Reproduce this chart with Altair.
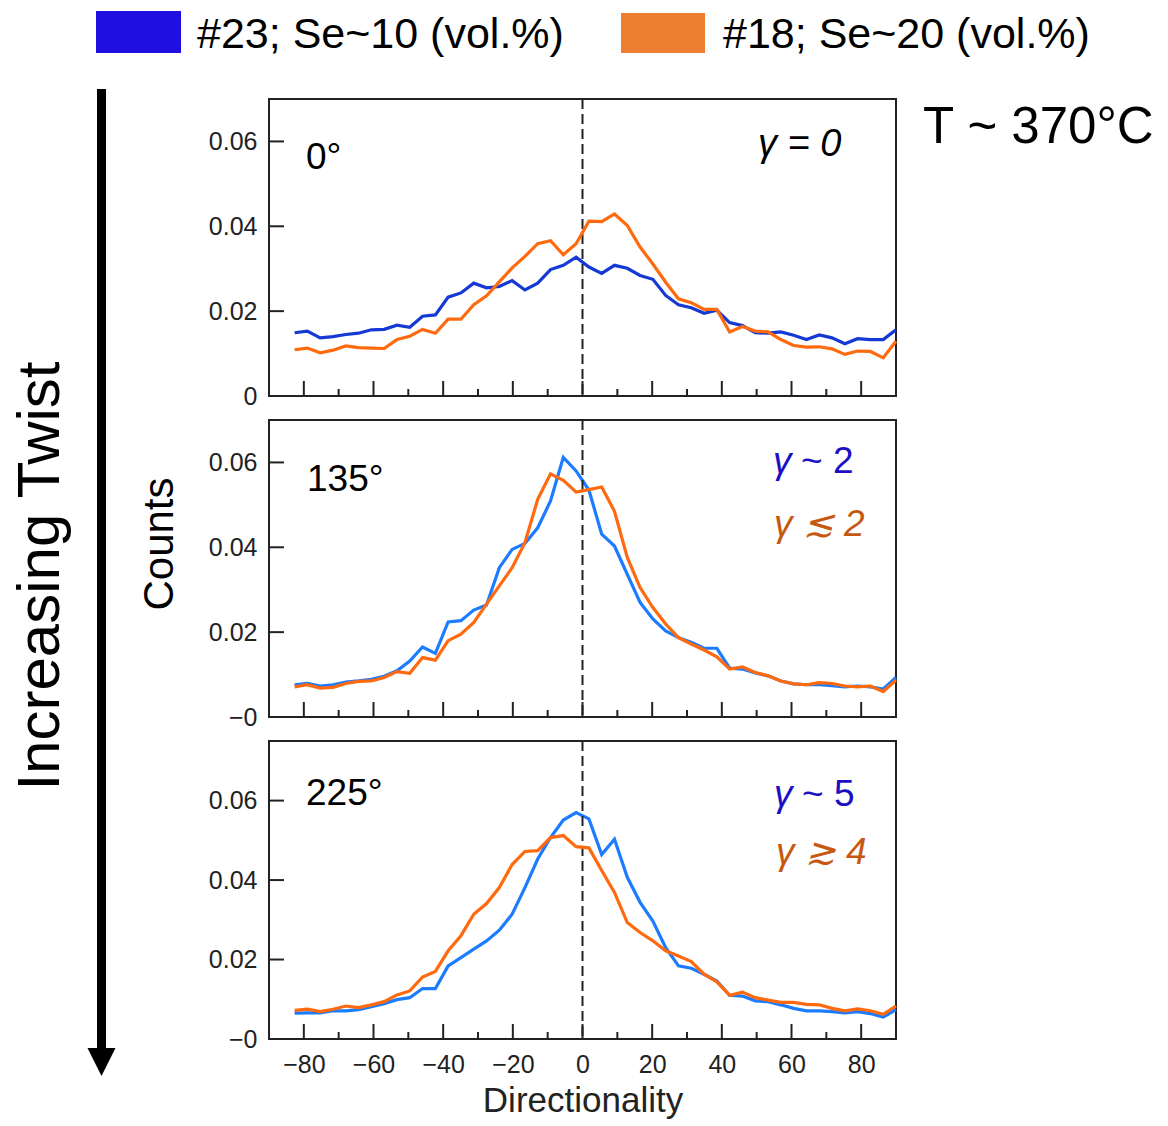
import altair as alt
import pandas as pd

# ---------------- data ----------------
DIRECTIONALITY = [-82.65, -78.98, -75.31, -71.63, -67.96, -64.29, -60.61, -56.94,
                  -53.27, -49.59, -45.92, -42.24, -38.57, -34.90, -31.22, -27.55,
                  -23.88, -20.20, -16.53, -12.86, -9.18, -5.51, -1.84, 1.84,
                  5.51, 9.18, 12.86, 16.53, 20.20, 23.88, 27.55, 31.22,
                  34.90, 38.57, 42.24, 45.92, 49.59, 53.27, 56.94, 60.61,
                  64.29, 67.96, 71.63, 75.31, 78.98, 82.65, 86.33, 90.00]

P1_BLUE = [0.0149, 0.0153, 0.0137, 0.0140, 0.0145, 0.0148, 0.0156, 0.0157,
           0.0167, 0.0162, 0.0188, 0.0191, 0.0233, 0.0243, 0.0266, 0.0255,
           0.0258, 0.0272, 0.0250, 0.0266, 0.0298, 0.0308, 0.0327, 0.0304,
           0.0289, 0.0308, 0.0301, 0.0284, 0.0275, 0.0237, 0.0215, 0.0208,
           0.0195, 0.0202, 0.0173, 0.0166, 0.0149, 0.0148, 0.0151, 0.0143,
           0.0133, 0.0144, 0.0137, 0.0123, 0.0135, 0.0133, 0.0133, 0.0156]
P1_ORANGE = [0.0109, 0.0113, 0.0102, 0.0108, 0.0118, 0.0114, 0.0113, 0.0112,
             0.0133, 0.0141, 0.0157, 0.0148, 0.0181, 0.0181, 0.0215, 0.0236,
             0.0269, 0.0302, 0.0329, 0.0359, 0.0366, 0.0333, 0.0359, 0.0412,
             0.0411, 0.0429, 0.0402, 0.0351, 0.0311, 0.0268, 0.0229, 0.0220,
             0.0204, 0.0204, 0.0151, 0.0164, 0.0153, 0.0151, 0.0133, 0.0119,
             0.0115, 0.0116, 0.0111, 0.0098, 0.0106, 0.0105, 0.0090, 0.0129]

P2_BLUE = [0.0076, 0.0079, 0.0073, 0.0076, 0.0082, 0.0085, 0.0089, 0.0096,
           0.0109, 0.0132, 0.0165, 0.0150, 0.0224, 0.0227, 0.0252, 0.0264,
           0.0352, 0.0395, 0.0409, 0.0446, 0.0509, 0.0612, 0.0580, 0.0535,
           0.0431, 0.0403, 0.0336, 0.0270, 0.0231, 0.0203, 0.0187, 0.0176,
           0.0162, 0.0162, 0.0115, 0.0113, 0.0104, 0.0097, 0.0085, 0.0078,
           0.0076, 0.0076, 0.0074, 0.0071, 0.0073, 0.0071, 0.0066, 0.0093]
P2_ORANGE = [0.0071, 0.0076, 0.0068, 0.0070, 0.0079, 0.0084, 0.0085, 0.0093,
             0.0107, 0.0103, 0.0140, 0.0134, 0.0180, 0.0195, 0.0223, 0.0266,
             0.0309, 0.0352, 0.0411, 0.0513, 0.0573, 0.0558, 0.0530, 0.0536,
             0.0542, 0.0485, 0.0376, 0.0305, 0.0258, 0.0219, 0.0187, 0.0172,
             0.0158, 0.0142, 0.0113, 0.0118, 0.0105, 0.0097, 0.0085, 0.0078,
             0.0076, 0.0081, 0.0079, 0.0073, 0.0071, 0.0073, 0.0060, 0.0087]

P3_BLUE = [0.0065, 0.0066, 0.0066, 0.0071, 0.0071, 0.0074, 0.0081, 0.0089,
           0.0099, 0.0104, 0.0127, 0.0127, 0.0184, 0.0205, 0.0226, 0.0247,
           0.0274, 0.0314, 0.0381, 0.0453, 0.0507, 0.0551, 0.0570, 0.0554,
           0.0464, 0.0503, 0.0407, 0.0344, 0.0297, 0.0230, 0.0184, 0.0178,
           0.0163, 0.0146, 0.0110, 0.0108, 0.0096, 0.0094, 0.0086, 0.0077,
           0.0071, 0.0071, 0.0069, 0.0066, 0.0069, 0.0064, 0.0055, 0.0074]
P3_ORANGE = [0.0072, 0.0075, 0.0069, 0.0075, 0.0083, 0.0079, 0.0086, 0.0094,
             0.0111, 0.0121, 0.0156, 0.0170, 0.0222, 0.0260, 0.0314, 0.0341,
             0.0381, 0.0439, 0.0472, 0.0474, 0.0507, 0.0512, 0.0484, 0.0481,
             0.0424, 0.0369, 0.0293, 0.0268, 0.0247, 0.0222, 0.0209, 0.0195,
             0.0163, 0.0144, 0.0110, 0.0118, 0.0104, 0.0098, 0.0092, 0.0092,
             0.0087, 0.0086, 0.0077, 0.0071, 0.0076, 0.0071, 0.0062, 0.0083]

XTICK_MAJOR = [-80, -60, -40, -20, 0, 20, 40, 60, 80]
XTICK_MINOR = [-70, -50, -30, -10, 10, 30, 50, 70]
YTICK_LABELS = [0, 0.02, 0.04, 0.06]
YTICK_INNER = [0.02, 0.04, 0.06]
Y_MAX = [0.07, 0.07, 0.075]
PANEL_LABELS = ["0°", "135°", "225°"]
LEGEND_LABELS = ["#23; Se~10 (vol.%)", "#18; Se~20 (vol.%)"]
TEMPERATURE = "T ~ 370°C"
SIDE_LABEL = "Increasing Twist"
Y_TITLE = "Counts"
X_TITLE = "Directionality"

# ---------------- styling ----------------
FONT = "Liberation Sans"
AX = "#222222"
LEGEND_COLORS = ["#2010E0", "#ED7D31"]
BLUE_LINE = ["#1539D4", "#1C7CFF", "#1C7CFF"]
ORANGE_LINE = "#FF6A0E"
GAMMA_BLUE = "#1B0FC4"
GAMMA_ORANGE = "#C65911"
W = 627
HEIGHTS = [297, 297, 298]

one = pd.DataFrame({"z": [0]})


def text(s, x, y, size, color="black", italic=False, align="left", angle=0):
    kw = dict(font=FONT, fontSize=size, color=color, align=align, baseline="alphabetic")
    if italic:
        kw["fontStyle"] = "italic"
    if angle:
        kw["angle"] = angle
    return alt.Chart(one).mark_text(**kw).encode(
        x=alt.value(x), y=alt.value(y), text=alt.value(s))


def box(x, x2, y, y2, color, opacity=1.0):
    return alt.Chart(one).mark_rect(color=color, opacity=opacity).encode(
        x=alt.value(x), x2=alt.value(x2), y=alt.value(y), y2=alt.value(y2))


def panel(i, blue, orange, extras, show_x):
    H = HEIGHTS[i]
    xs = alt.Scale(domain=[-90, 90], nice=False, zero=False)
    ys = alt.Scale(domain=[0, Y_MAX[i]], nice=False, zero=False)
    zero_lab = "0" if i == 0 else "−0"
    yaxis = alt.Axis(values=YTICK_LABELS, title=None,
                     labelExpr=f"datum.value == 0 ? '{zero_lab}' : format(datum.value, '.2f')",
                     labelPadding=12)
    if show_x:
        xaxis = alt.Axis(values=XTICK_MAJOR, title=None, labelPadding=13, labelFlush=False)
    else:
        xaxis = None

    def X(f):
        return alt.X(f, type="quantitative", scale=xs, axis=xaxis)

    def Y(f):
        return alt.Y(f, type="quantitative", scale=ys, axis=yaxis)

    df = pd.DataFrame({"dir": DIRECTIONALITY, "blue": blue, "orange": orange})
    base = alt.Chart(df)
    lb = base.mark_line(color=BLUE_LINE[i], strokeWidth=3.2).encode(x=X("dir"), y=Y("blue"))
    lo = base.mark_line(color=ORANGE_LINE, strokeWidth=3.2).encode(x=X("dir"), y=Y("orange"))
    zl = alt.Chart(one).mark_rule(color=AX, strokeWidth=2, strokeDash=[10, 5]).encode(
        x=X("z"), y=alt.value(0), y2=alt.value(H))
    tmaj = alt.Chart(pd.DataFrame({"t": XTICK_MAJOR})).mark_rule(color=AX, strokeWidth=2).encode(
        x=X("t"), y=alt.value(H), y2=alt.value(H - 15))
    tmin = alt.Chart(pd.DataFrame({"t": XTICK_MINOR})).mark_rule(color=AX, strokeWidth=2).encode(
        x=X("t"), y=alt.value(H), y2=alt.value(H - 7))
    ty = alt.Chart(pd.DataFrame({"t": YTICK_INNER})).mark_rule(color=AX, strokeWidth=2).encode(
        y=Y("t"), x=alt.value(0), x2=alt.value(15))
    layers = [lb, zl, tmaj, tmin, ty, lo] + extras
    return alt.layer(*layers).properties(width=W, height=H)


# panel 1 decorations (coordinates relative to panel 1 plot area)
extras1 = [
    box(-260, 0, -90, 0, "white", opacity=0.0),
    box(-173, -88, -88, -46, LEGEND_COLORS[0]),
    text(LEGEND_LABELS[0], -72, -51, 43),
    box(352, 436, -86, -46, LEGEND_COLORS[1]),
    text(LEGEND_LABELS[1], 454, -51, 43),
    text(TEMPERATURE, 654, 44, 51),
    text(PANEL_LABELS[0], 37, 70, 37),
    text("γ = 0", 489, 57, 38, italic=True),
    alt.Chart(one).mark_rule(color="black", strokeWidth=9).encode(
        x=alt.value(-167.5), y=alt.value(-10), y2=alt.value(955)),
    alt.Chart(one).mark_point(shape="M-1,-1L1,-1L0,1Z", size=784, filled=True,
                              color="black", opacity=1).encode(
        x=alt.value(-167.5), y=alt.value(963)),
    text(SIDE_LABEL, -210, 477, 60, align="center", angle=270),
    text(Y_TITLE, -96, 445, 42, align="center", angle=270),
]
extras2 = [
    text(PANEL_LABELS[1], 38, 71, 37),
    text("γ", 504, 53, 37, color=GAMMA_BLUE, italic=True),
    text("~ 2", 532, 53, 37, color=GAMMA_BLUE),
    text("γ ≲ 2", 505, 116, 37, color=GAMMA_ORANGE, italic=True),
]
extras3 = [
    text(PANEL_LABELS[2], 37, 64, 37),
    text("γ", 505, 65, 37, color=GAMMA_BLUE, italic=True),
    text("~ 5", 533, 65, 37, color=GAMMA_BLUE),
    text("γ ≳ 4", 507, 123, 37, color=GAMMA_ORANGE, italic=True),
    text(X_TITLE, 314, 371, 35, color=AX, align="center"),
]

p1 = panel(0, P1_BLUE, P1_ORANGE, extras1, False)
p2 = panel(1, P2_BLUE, P2_ORANGE, extras2, False)
p3 = panel(2, P3_BLUE, P3_ORANGE, extras3, True)

chart = alt.vconcat(p1, p2, p3, spacing=24, bounds="flush").properties(
    padding={"left": 0, "top": 0, "right": 0, "bottom": 0}
).configure_view(
    stroke=AX, strokeWidth=2
).configure_axis(
    labelFont=FONT, labelFontSize=25, labelColor=AX,
    titleFont=FONT, titleFontSize=36, titleFontWeight="normal", titleColor=AX,
    domain=False, grid=False, ticks=False, tickSize=0
)

chart.save("out.html", embed_options={"renderer": "svg", "actions": False})
